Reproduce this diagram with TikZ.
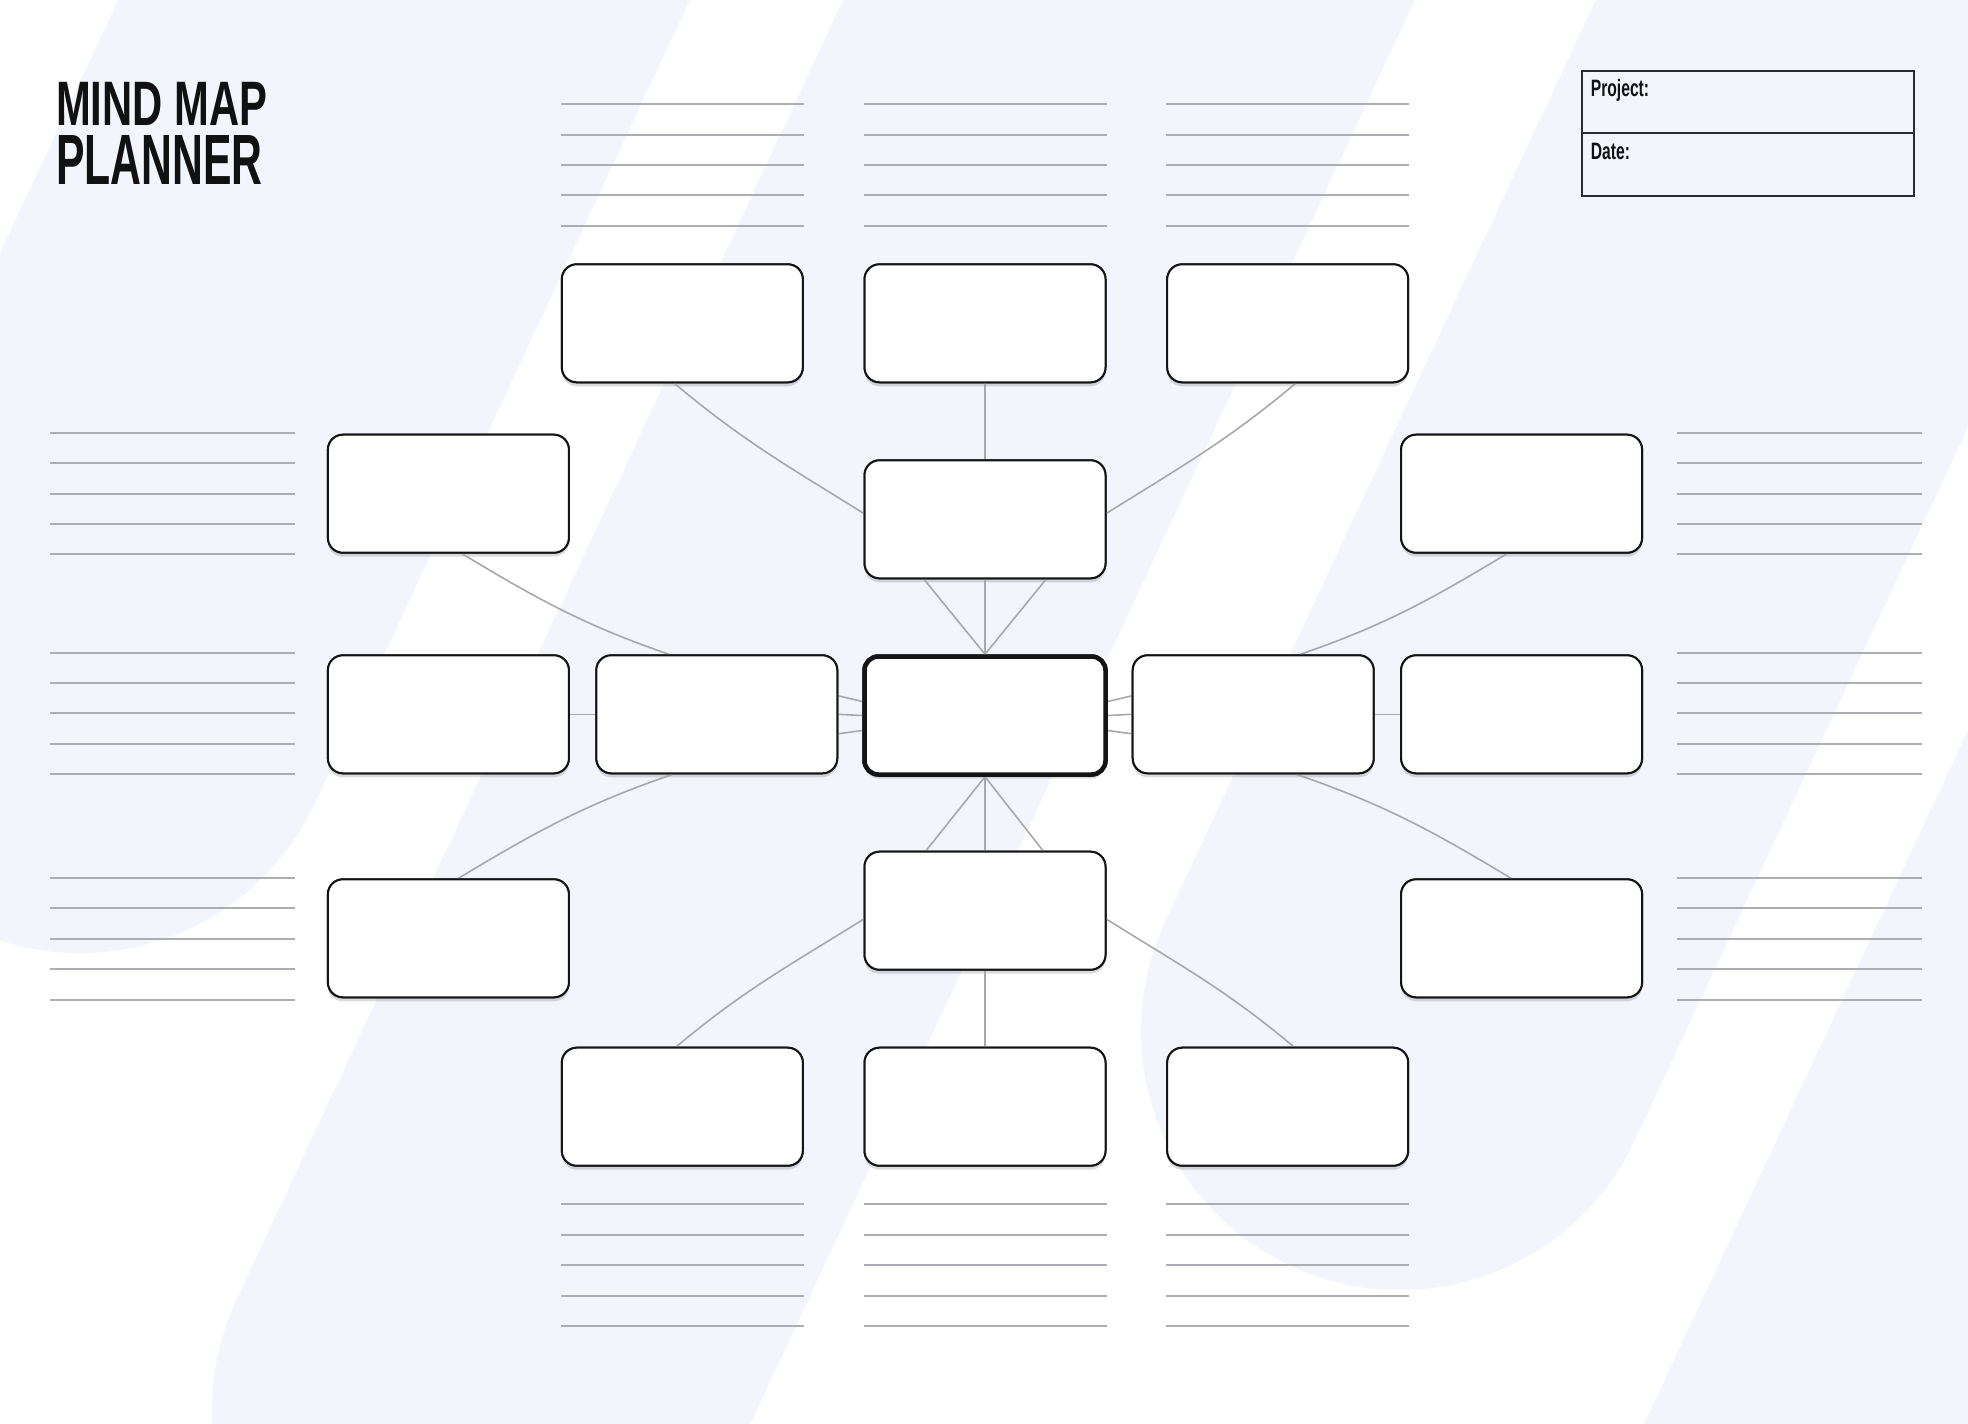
\documentclass[tikz,border=0pt]{standalone}
\usepackage{fontspec}
\setmainfont{Liberation Sans}
\newfontfamily\titleA[FakeStretch=0.665]{Liberation Sans}
\newfontfamily\titleB[FakeStretch=0.60]{Liberation Sans}
\newfontfamily\labfont[FakeStretch=0.66]{Liberation Sans}
\usetikzlibrary{calc,shadows}
\definecolor{bandcol}{RGB}{242,245,252}
\definecolor{boxline}{RGB}{20,20,20}
\definecolor{conncol}{RGB}{168,168,170}
\definecolor{rulecol}{RGB}{172,174,180}
\definecolor{inkcol}{RGB}{17,17,17}
\begin{document}
\begin{tikzpicture}[x=1pt,y=-1pt,
  mbox/.style={draw=boxline, line width=2pt, fill=white, rounded corners=15pt,
    minimum width=241pt, minimum height=118pt, inner sep=0pt},
  shad/.style={drop shadow={shadow xshift=0pt,shadow yshift=-4pt,opacity=0.14,fill=black}},
  hub/.style={mbox, line width=4.5pt, rounded corners=14pt},
  conn/.style={draw=conncol, line width=1.6pt},
  rule/.style={draw=rulecol, line width=2pt},
  band/.style={draw=bandcol, line width=518pt, line cap=round},
  pbox/.style={draw=boxline!90, line width=2pt, minimum width=332pt, inner sep=0pt},
  lab/.style={anchor=base west, inner sep=0pt, text=inkcol}]
\useasboundingbox (0,0) rectangle (1968,1424);
\fill[white] (0,0) rectangle (1968,1424);
% background slanted bands
\begin{scope}
\clip (0,0) rectangle (1968,1424);
\draw[band] (684,-600) -- (80,694);
\draw[band] (1409,-600) -- (471,1410);
\draw[band] (2162,-600) -- (1400,1031);
\draw[band] (2875,-600) -- (1661,2000);
\end{scope}
% title
\node[lab, font=\titleA\bfseries\fontsize{62.8}{70}\selectfont] (title1) at (56,125) {MIND MAP};
\node[lab, font=\titleB\bfseries\fontsize{71.2}{80}\selectfont] (title2) at (56,184) {PLANNER};
% project / date box
\node[pbox, minimum height=62.6pt] (proj) at (1747.7,102) {};
\node[pbox, minimum height=62.4pt] (date) at (1747.7,164.5) {};
\node[lab, font=\labfont\bfseries\fontsize{23.7}{26}\selectfont] (projlab) at (1590.7,96) {Project:};
\node[lab, font=\labfont\bfseries\fontsize{23.7}{26}\selectfont] (datelab) at (1590.7,159.3) {Date:};
% ruled lines
\foreach \y in {104,134.7,164.7,195.3,225.7}{
  \draw[rule] (561,\y) -- (804,\y);
  \draw[rule] (863.5,\y) -- (1106.5,\y);
  \draw[rule] (1166,\y) -- (1409,\y);}
\foreach \y in {1204.3,1235,1265.3,1295.7,1326.3}{
  \draw[rule] (561,\y) -- (804,\y);
  \draw[rule] (863.5,\y) -- (1106.5,\y);
  \draw[rule] (1166,\y) -- (1409,\y);}
\foreach \y in {433,463.4,493.7,524,554.4, 652.6,682.8,713.3,743.9,774.3, 877.7,908.3,938.7,969.3,999.5}{
  \draw[rule] (50,\y) -- (294.5,\y);
  \draw[rule] (1677,\y) -- (1921.5,\y);}
% node positions
\path
  (682.3,323.3) coordinate (pt1) (985,323.3) coordinate (pt2) (1287.7,323.3) coordinate (pt3)
  (448.4,493.7) coordinate (pl2) (985,519.3) coordinate (pm2) (1521.6,493.7) coordinate (pr2)
  (448.4,714.3) coordinate (pl3) (716.8,714.3) coordinate (pil) (985,715.5) coordinate (pc)
  (1253.2,714.3) coordinate (pir) (1521.6,714.3) coordinate (pr3)
  (448.4,938.3) coordinate (pl4) (985,910.7) coordinate (pm4) (1521.6,938.3) coordinate (pr4)
  (682.3,1106.7) coordinate (pb1) (985,1106.7) coordinate (pb2) (1287.7,1106.7) coordinate (pb3);
% boxes with shadows first (define names)
\foreach \n in {t1,t2,t3,l2,m2,r2,l3,il,ir,r3,l4,m4,r4,b1,b2,b3}{
  \node[mbox, shad] (\n) at (p\n) {};}
\node[hub, shad] (c) at (pc) {};
% connectors
\draw[conn] ($(m2.south)+(-61,0)$) -- (c.north);
\draw[conn] (m2.south) -- (c.north);
\draw[conn] ($(m2.south)+(61,0)$) -- (c.north);
\draw[conn] (c.south) -- ($(m4.north)+(-59,0)$);
\draw[conn] (c.south) -- (m4.north);
\draw[conn] (c.south) -- ($(m4.north)+(58,0)$);
\draw[conn] ($(il.east)+(0,-18.5)$) -- ($(c.west)+(0,-14)$);
\draw[conn] (il.east) -- (c.west);
\draw[conn] ($(il.east)+(0,19.5)$) -- ($(c.west)+(0,15)$);
\draw[conn] ($(ir.west)+(0,-18.5)$) -- ($(c.east)+(0,-14)$);
\draw[conn] (ir.west) -- (c.east);
\draw[conn] ($(ir.west)+(0,19.5)$) -- ($(c.east)+(0,15)$);
\draw[conn] (l3.east) -- (il.west);
\draw[conn] (ir.east) -- (r3.west);
\draw[conn] (t2.south) -- (m2.north);
\draw[conn] (m4.south) -- (b2.north);
\draw[conn] ($(t1.south)+(-8,0)$) to[out=-40,in=148] ($(m2.west)+(0,-6)$);
\draw[conn] ($(t3.south)+(8,0)$) to[out=220,in=32] ($(m2.east)+(0,-6)$);
\draw[conn] ($(m4.west)+(0,8.5)$) to[out=212,in=40] ($(b1.north)+(-6,0)$);
\draw[conn] ($(m4.east)+(0,8.5)$) to[out=-32,in=140] ($(b3.north)+(6,0)$);
\draw[conn] ($(l2.south)+(13.6,0)$) to[out=-31,in=161] ($(il.north)+(-47.8,0)$);
\draw[conn] ($(r2.south)+(-14.6,0)$) to[out=211,in=19] ($(ir.north)+(47,0)$);
\draw[conn] ($(il.south)+(-44,0)$) to[out=199,in=31] ($(l4.north)+(10,0)$);
\draw[conn] ($(ir.south)+(43,0)$) to[out=-19,in=149] ($(r4.north)+(-10.5,0)$);
% redraw boxes on top so connectors tuck beneath their borders
\foreach \n in {t1,t2,t3,l2,m2,r2,l3,il,ir,r3,l4,m4,r4,b1,b2,b3}{
  \node[mbox] (\n) at (p\n) {};}
\node[hub] (c) at (pc) {};
\end{tikzpicture}
\end{document}
